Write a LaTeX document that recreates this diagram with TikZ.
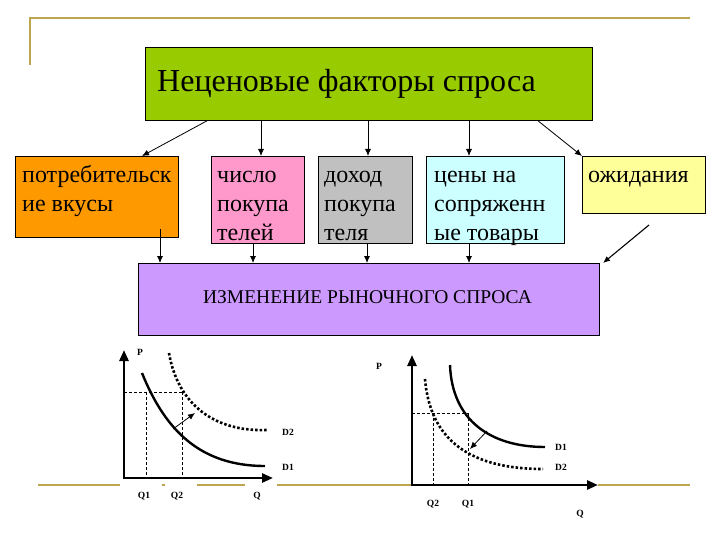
\documentclass[tikz,border=0pt]{standalone}
\usepackage{fontspec}
\setmainfont{Liberation Serif}
\usepackage{xcolor}
\usepackage{tikz}
\usetikzlibrary{arrows.meta}
\usetikzlibrary{calc}
\definecolor{zelen}{HTML}{99CC00}
\definecolor{oranzh}{HTML}{FF9900}
\definecolor{rozov}{HTML}{FF99CC}
\definecolor{seryj}{HTML}{C0C0C0}
\definecolor{goluboj}{HTML}{CCFFFF}
\definecolor{zheltyj}{HTML}{FFFF99}
\definecolor{sirenev}{HTML}{CC99FF}
\definecolor{zoloto}{RGB}{190,165,80}

\begin{document}
\begin{tikzpicture}[x=1pt,y=-1pt,
    box/.style={draw=black,line width=0.8pt,anchor=north west,inner sep=0pt},
    txt/.style={anchor=north west,align=left,inner sep=0pt,font=\fontsize{24}{29}\selectfont},
    strelka/.style={line width=0.8pt,-{Latex[length=7pt,width=6pt]}},
    os/.style={line width=2.6pt,{Triangle[length=11pt,width=9pt]}-{Triangle[length=11pt,width=9pt]}},
    krivaya/.style={line width=2.4pt},
    tochki/.style={line width=2.6pt,dash pattern=on 2.5pt off 2pt},
    shtrih/.style={line width=0.8pt,dash pattern=on 3pt off 2pt},
    metka/.style={font=\fontsize{9.5}{10}\selectfont\bfseries,inner sep=0pt},
    ramka/.style={draw=zoloto,line width=2.5pt}]
            \useasboundingbox (0,0) rectangle (720,540);
            %\fill[white] (0,0) rectangle (720,540);
            % frame
            \draw[ramka] (30,65) -- (30,18) -- (690,18);
            \draw[ramka] (38,485) -- (120,485) (162,485) -- (165,485) (197,485) -- (245,485)
                (277,485) -- (412,485) (598,485) -- (690,485);
            % boxes
            \node[box,fill=zelen,minimum width=447,minimum height=73] (faktory) at (145,47) {};
            \node[anchor=base west,inner sep=0pt,font=\fontsize{32}{38}\selectfont] (faktory-t) at (157,92) {Неценовые факторы спроса};
            \node[box,fill=oranzh,minimum width=163,minimum height=81] (vkus) at (15,156) {};
            \node[txt] (vkus-t) at (22,161.7) {\strut потребительск\\ие вкусы};
            \node[box,fill=rozov,minimum width=93,minimum height=87] (kolvo) at (211,156) {};
            \node[txt] (kolvo-t) at (217,161.7) {\strut число\\покупа\\телей};
            \node[box,fill=seryj,minimum width=94,minimum height=87] (dohod) at (318,156) {};
            \node[txt] (dohod-t) at (324,161.7) {\strut доход\\покупа\\теля};
            \node[box,fill=goluboj,minimum width=138,minimum height=87] (ceny) at (426,156) {};
            \node[txt] (ceny-t) at (434,161.7) {\strut цены на\\сопряженн\\ые товары};
            \node[box,fill=zheltyj,minimum width=123,minimum height=57] (ozhid) at (582,156) {};
            \node[txt] (ozhid-t) at (588,161.7) {\strut ожидания};
            \node[box,fill=sirenev,minimum width=461,minimum height=72] (spros) at (138,263) {};
            \node[anchor=base,inner sep=0pt,font=\fontsize{19.5}{22}\selectfont] (spros-t) at (367.5,303) {ИЗМЕНЕНИЕ РЫНОЧНОГО СПРОСА};
            % arrows
            \draw[strelka] (faktory.south -| 207,0) -- (vkus.north -| 142,0);
            \draw[strelka] (faktory.south -| 261,0) -- (kolvo.north -| 261,0);
            \draw[strelka] (faktory.south -| 368,0) -- (dohod.north -| 368,0);
            \draw[strelka] (faktory.south -| 469,0) -- (ceny.north -| 469,0);
            \draw[strelka] (faktory.south -| 538,0) -- (ozhid.north west);
            \draw[strelka] ($(vkus.south -| 160,0)+(0,-9)$) -- (spros.north -| 160,0);
            \draw[strelka] (kolvo.south -| 253,0) -- (spros.north -| 253,0);
            \draw[strelka] (dohod.south -| 367,0) -- (spros.north -| 367,0);
            \draw[strelka] (ceny.south -| 469,0) -- (spros.north -| 469,0);
            \coordinate (ozhid-a) at (649,225);
            \coordinate (ozhid-b) at (603,263);
            \draw[strelka,line width=1.1pt] (ozhid-a) -- (ozhid-b);
            % left graph
            \draw[shtrih] (124,392) -- (182,392) (146,392) -- (146,478) (182,392) -- (182,478);
            \draw[krivaya] (142,373) .. controls (165,430) and (200,466) .. (265,466);
            \draw[tochki] (169,353) .. controls (178,405) and (215,432) .. (267,430);
            \draw[strelka] (173,429) -- (195,413);
            \draw[os] (124,350) -- (124,478) -- (273,478);
            \node[metka] (p1) at (140,352) {P};
            \node[metka] (d2a) at (288,432) {D2};
            \node[metka] (d1a) at (288,467) {D1};
            \node[metka] (q1a) at (144,496) {Q1};
            \node[metka] (q2a) at (177,496) {Q2};
            \node[metka] (qa) at (257,496) {Q};
            % right graph
            \draw[shtrih] (412,413) -- (468,413) (433,413) -- (433,485) (468,413) -- (468,485);
            \draw[krivaya] (450,365) .. controls (452,420) and (490,447) .. (545,447);
            \draw[tochki] (425,379) .. controls (430,440) and (470,469) .. (543,469);
            \draw[strelka] (487,431) -- (470,449);
            \draw[os] (412,355) -- (412,485) -- (598,485);
            \node[metka] (p2) at (379,366) {P};
            \node[metka] (d1b) at (561,447) {D1};
            \node[metka] (d2b) at (561,467) {D2};
            \node[metka] (q2b) at (433,504) {Q2};
            \node[metka] (q1b) at (468,504) {Q1};
            \node[metka] (qb) at (580,514) {Q};
        \end{tikzpicture}
\end{document}
